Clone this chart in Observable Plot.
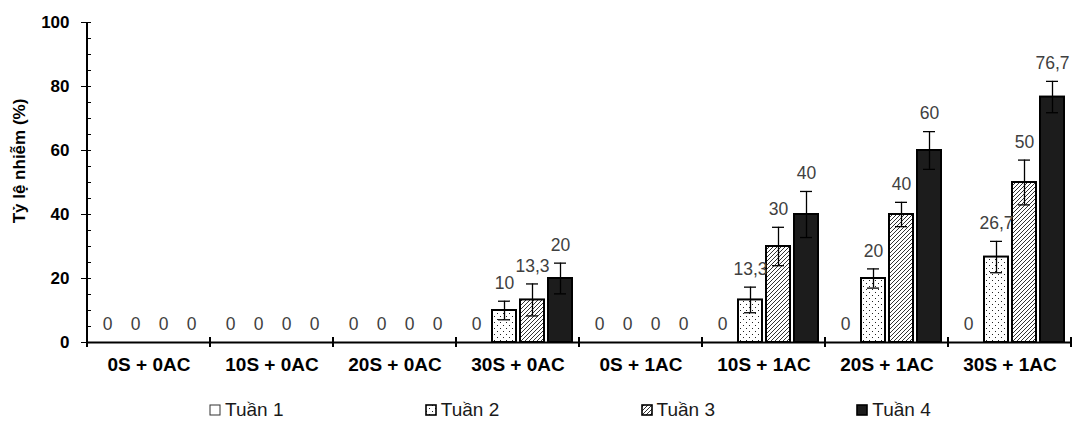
<!DOCTYPE html>
<html>
<head>
<meta charset="utf-8">
<script src="https://cdn.jsdelivr.net/npm/d3@7"></script>
<script src="https://cdn.jsdelivr.net/npm/@observablehq/plot@0.6"></script>
<style>
  body { margin: 0; background: #fff; font-family: "Liberation Sans", Arial, sans-serif; }
  #chart { width: 1072px; height: 385px; }
  #legend { width: 1072px; height: 38px; box-sizing: border-box; padding-top: 16px; padding-left: 209px; display: flex; }
  .item { width: 219px; height: 18px; display: flex; align-items: center; font-size: 19px; color: #1a1a1a; }
  .item svg { margin-right: 4px; flex: none; }
</style>
</head>
<body>
<svg width="0" height="0" style="position:absolute">
  <defs>
    <pattern id="dots" patternUnits="userSpaceOnUse" width="6" height="6">
      <rect width="6" height="6" fill="#fff"></rect>
      <rect x="1" y="1" width="1" height="1" fill="#222"></rect>
      <rect x="4" y="4" width="1" height="1" fill="#222"></rect>
    </pattern>
    <pattern id="hatch" patternUnits="userSpaceOnUse" width="4" height="4">
      <rect width="4" height="4" fill="#fff"></rect>
      <path d="M0,4 L4,0 M-1,1 L1,-1 M3,5 L5,3" stroke="#333" stroke-width="1"></path>
    </pattern>
  </defs>
</svg>
<div id="chart"></div>
<div id="legend"></div>
<script>
const groups = ["0S + 0AC", "10S + 0AC", "20S + 0AC", "30S + 0AC", "0S + 1AC", "10S + 1AC", "20S + 1AC", "30S + 1AC"];
const series = ["Tuần 1", "Tuần 2", "Tuần 3", "Tuần 4"];
const week1 = [0, 0, 0, 0, 0, 0, 0, 0];
const week2 = [0, 0, 0, 10, 0, 13.3, 20, 26.7];
const week3 = [0, 0, 0, 13.3, 0, 30, 40, 50];
const week4 = [0, 0, 0, 20, 0, 40, 60, 76.7];
const err1 = [0, 0, 0, 0, 0, 0, 0, 0];
const err2 = [0, 0, 0, 2.9, 0, 4, 3, 4.9];
const err3 = [0, 0, 0, 5, 0, 6, 3.8, 7];
const err4 = [0, 0, 0, 4.8, 0, 7.2, 5.9, 4.9];
const yTicks = [0, 20, 40, 60, 80, 100];
const yMinorTicks = d3.range(0, 101, 5);
const yTitle = "Tỷ lệ nhiễm (%)";
const fills = ["#ffffff", "url(#dots)", "url(#hatch)", "#1c1c1c"];

const values = [week1, week2, week3, week4];
const errs = [err1, err2, err3, err4];
const data = groups.flatMap((g, i) => series.map((s, j) => ({
  group: g, series: s, value: values[j][i], err: errs[j][i]
})));
const fmt = v => String(v).replace(".", ",");
const FONT = '"Liberation Sans", Arial, sans-serif';

const plot = Plot.plot({
  width: 1072,
  height: 385,
  marginLeft: 86,
  marginRight: 1,
  marginTop: 22,
  marginBottom: 43,
  style: { fontFamily: FONT, background: "#fff", color: "#000" },
  fx: { domain: groups, padding: 0, label: null },
  x: { domain: series, paddingInner: 0.16, paddingOuter: 0.23, axis: null },
  y: { domain: [0, 100], label: null },
  color: { domain: series, range: fills },
  marks: [
    Plot.barY(data, { filter: d => d.value > 0, fx: "group", x: "series", y: "value", fill: "series", stroke: "#000", strokeWidth: 2 }),
    Plot.ruleX(data, { filter: d => d.err > 0, fx: "group", x: "series", y1: d => d.value - d.err, y2: d => d.value + d.err, stroke: "#000", strokeWidth: 1.3 }),
    Plot.tickY(data, { filter: d => d.err > 0, fx: "group", x: "series", y: d => d.value + d.err, insetLeft: 6, insetRight: 6, stroke: "#000", strokeWidth: 1.3 }),
    Plot.tickY(data, { filter: d => d.err > 0, fx: "group", x: "series", y: d => d.value - d.err, insetLeft: 6, insetRight: 6, stroke: "#000", strokeWidth: 1.3 }),
    Plot.text(data, { fx: "group", x: "series", y: d => d.value + d.err, text: d => fmt(d.value), dy: -18, fontSize: 17.5, fill: "#404040" }),
    Plot.ruleY([0], { stroke: "#000", strokeWidth: 2 }),
    Plot.axisY({ ticks: yMinorTicks, tickSize: 4, dx: 4, tickFormat: () => "", label: null }),
    Plot.axisY({ ticks: yTicks, tickSize: 8, dx: 2, tickPadding: 12, fontSize: 17, fontWeight: "bold", label: null }),
    Plot.axisFx({ anchor: "bottom", tickSize: 0, tickPadding: 15, fontSize: 19, fontWeight: "bold", label: null })
  ]
});
document.getElementById("chart").appendChild(plot);

// axis line, group separators and y title, positioned from Plot's scales
const svg = d3.select(plot);
const fx = plot.scale("fx");
const y = plot.scale("y");
const y0 = y.apply(0);
const y100 = y.apply(100);
const x0 = fx.apply(groups[0]);
const g = svg.append("g");
g.append("line").attr("x1", x0).attr("x2", x0).attr("y1", y0 + 1).attr("y2", y100)
  .attr("stroke", "#000").attr("stroke-width", 2);
const bounds = groups.map(d => fx.apply(d)).concat([fx.apply(groups[groups.length - 1]) + fx.bandwidth]);
bounds.forEach(b => {
  g.append("line").attr("x1", b).attr("x2", b).attr("y1", y0 - 5).attr("y2", y0 + 5)
    .attr("stroke", "#000").attr("stroke-width", 2);
});
g.append("text").attr("transform", `translate(25,${(y0 + y100) / 2 - 21}) rotate(-90)`)
  .attr("text-anchor", "middle").attr("font-size", 17).attr("font-weight", "bold")
  .attr("font-family", FONT).attr("fill", "#000").text(yTitle);

// legend
const legend = d3.select("#legend");
series.forEach((s, i) => {
  const item = legend.append("div").attr("class", "item");
  const sw = item.append("svg").attr("width", 12).attr("height", 12);
  sw.append("rect").attr("x", 1).attr("y", 1).attr("width", 10).attr("height", 10)
    .attr("fill", fills[i]).attr("stroke", i === 0 ? "#333" : "#000").attr("stroke-width", i === 0 ? 1 : 1.6);
  item.append("span").text(s);
});
</script>
</body>
</html>
